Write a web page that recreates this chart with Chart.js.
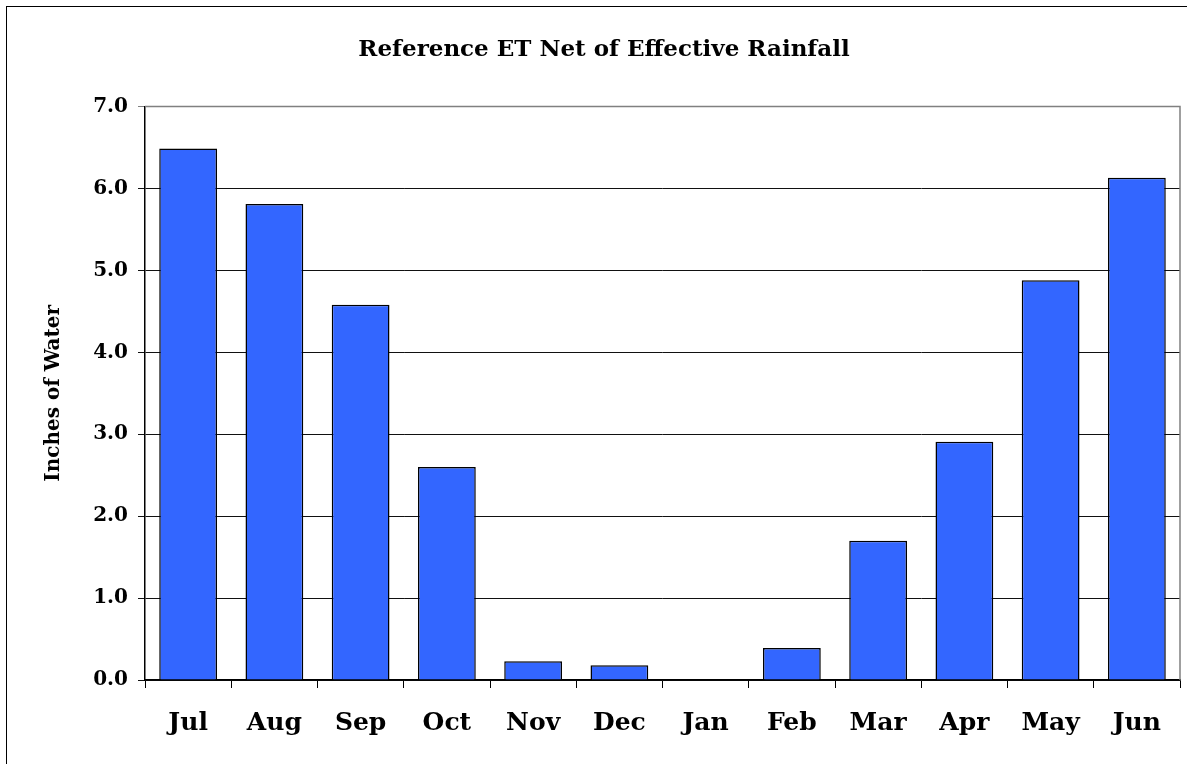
<!DOCTYPE html>
<html>
<head>
<meta charset="utf-8">
<script src="https://cdn.jsdelivr.net/npm/chart.js@4"></script>
<style>
  html, body { margin: 0; padding: 0; background: #fff; }
  #wrap { position: relative; width: 1187px; height: 764px; overflow: hidden; }
  #frame { position: absolute; left: 6px; top: 6px; right: -4px; bottom: -4px;
           border-left: 1.5px solid #000; border-top: 1.5px solid #000; pointer-events: none; }
  canvas { position: absolute; left: 0; top: 0; }
</style>
</head>
<body>
<div id="wrap">
  <canvas id="chart" width="1187" height="764"></canvas>
  <div id="frame"></div>
</div>
<script>
// Monthly reference evapotranspiration minus effective rainfall (inches)
const months = ['Jul', 'Aug', 'Sep', 'Oct', 'Nov', 'Dec', 'Jan', 'Feb', 'Mar', 'Apr', 'May', 'Jun'];
const netET = [6.49, 5.81, 4.58, 2.60, 0.23, 0.18, 0, 0.39, 1.70, 2.91, 4.88, 6.13];
const yMin = 0, yMax = 7, yStep = 1;

const serif = "'DejaVu Serif', 'Liberation Serif', serif";

// Grey outline around the plotting area (top and right edges visible)
const plotFrame = {
  id: 'plotFrame',
  beforeDatasetsDraw(chart) {
    const { ctx, chartArea: a } = chart;
    ctx.save();
    ctx.strokeStyle = '#808080';
    ctx.lineWidth = 1.5;
    ctx.beginPath();
    ctx.moveTo(a.left, a.top);
    ctx.lineTo(a.right, a.top);
    ctx.lineTo(a.right, a.bottom);
    ctx.stroke();
    ctx.restore();
  }
};

new Chart(document.getElementById('chart'), {
  type: 'bar',
  data: {
    labels: months,
    datasets: [{
      data: netET,
      backgroundColor: '#3366FF',
      borderColor: '#000000',
      borderWidth: 1.5,
      borderSkipped: 'bottom',
      barPercentage: 0.67,
      categoryPercentage: 1.0
    }]
  },
  options: {
    responsive: false,
    animation: false,
    layout: { padding: { left: 28, right: 7, top: 0, bottom: 0 } },
    plugins: {
      legend: { display: false },
      tooltip: { enabled: false },
      title: {
        display: true,
        text: 'Reference ET Net of Effective Rainfall',
        color: '#000',
        font: { family: serif, size: 23, weight: 'bold' },
        padding: { top: 36, bottom: 43 }
      }
    },
    scales: {
      x: {
        offset: true,
        grid: {
          display: true,
          drawOnChartArea: false,
          drawTicks: true,
          tickLength: 8,
          color: '#000',
          lineWidth: 1,
          offset: true
        },
        border: { display: true, color: '#000', width: 1.5 },
        ticks: {
          color: '#000',
          padding: 20,
          font: { family: serif, size: 25, weight: 'bold' },
          maxRotation: 0
        },
        afterFit(scale) { scale.height = 84; }
      },
      y: {
        min: yMin,
        max: yMax,
        grid: {
          color: c => (c.tick && c.tick.value === yMax) ? '#808080' : '#111',
          lineWidth: 1,
          drawTicks: true,
          tickLength: 7
        },
        border: { display: true, color: '#000', width: 1.5 },
        ticks: {
          stepSize: yStep,
          color: '#000',
          padding: 10,
          font: { family: serif, size: 20, weight: 'bold' },
          callback: v => Number(v).toFixed(1)
        },
        title: {
          display: true,
          text: 'Inches of Water',
          color: '#000',
          font: { family: serif, size: 20, weight: 'bold' },
          padding: { top: 14, bottom: 0 }
        },
        afterFit(scale) { scale.width = 117; }
      }
    }
  },
  plugins: [plotFrame]
});
</script>
</body>
</html>
